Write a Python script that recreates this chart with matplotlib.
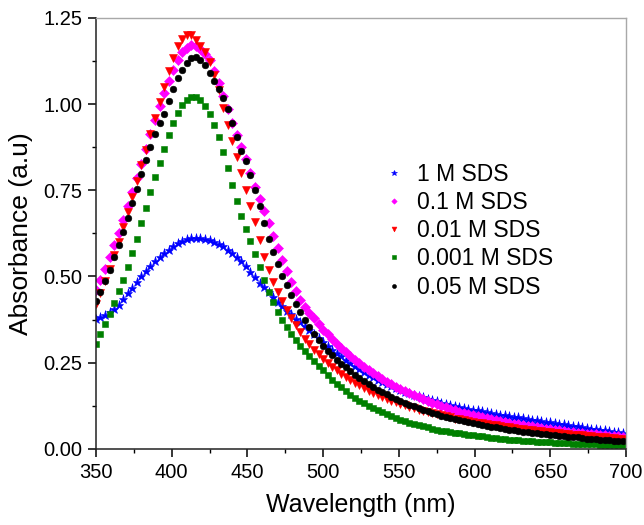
'''Absorbance spectra for different SDS concentrations.'''
import numpy as np
import matplotlib
matplotlib.use('Agg')
import matplotlib.pyplot as plt
from matplotlib.ticker import MultipleLocator

# wavelength grid of the recorded points (nm)
wavelength = np.arange(350, 701, 3)

sds_1M = [
    0.377, 0.382, 0.388, 0.397, 0.407, 0.418, 0.434, 0.451, 0.467, 0.484,
    0.500, 0.516, 0.531, 0.544, 0.556, 0.568, 0.578, 0.588, 0.596, 0.603,
    0.608, 0.611, 0.612, 0.611, 0.609, 0.606, 0.601, 0.595, 0.588, 0.578,
    0.568, 0.556, 0.544, 0.530, 0.514, 0.497, 0.482, 0.468, 0.454, 0.440,
    0.427, 0.414, 0.401, 0.390, 0.378, 0.367, 0.357, 0.346, 0.334, 0.322,
    0.310, 0.299, 0.288, 0.278, 0.268, 0.258, 0.249, 0.240, 0.232, 0.223,
    0.215, 0.208, 0.201, 0.194, 0.188, 0.181, 0.176, 0.171, 0.166, 0.162,
    0.157, 0.153, 0.149, 0.145, 0.142, 0.138, 0.134, 0.131, 0.128, 0.125,
    0.122, 0.119, 0.117, 0.114, 0.112, 0.109, 0.107, 0.104, 0.102, 0.099,
    0.097, 0.095, 0.093, 0.091, 0.089, 0.087, 0.085, 0.083, 0.081, 0.079,
    0.077, 0.075, 0.073, 0.071, 0.069, 0.067, 0.065, 0.063, 0.061, 0.059,
    0.057, 0.055, 0.054, 0.052, 0.050, 0.048, 0.047,
]

sds_01M = [
    0.460, 0.490, 0.523, 0.556, 0.590, 0.627, 0.665, 0.705, 0.745, 0.786,
    0.827, 0.869, 0.912, 0.953, 0.993, 1.032, 1.068, 1.100, 1.128, 1.150,
    1.164, 1.170, 1.168, 1.160, 1.146, 1.127, 1.097, 1.060, 1.022, 0.985,
    0.945, 0.910, 0.875, 0.840, 0.800, 0.760, 0.725, 0.690, 0.655, 0.618,
    0.582, 0.548, 0.515, 0.485, 0.457, 0.432, 0.412, 0.395, 0.380, 0.362,
    0.346, 0.332, 0.318, 0.305, 0.292, 0.280, 0.269, 0.259, 0.248, 0.238,
    0.229, 0.220, 0.211, 0.203, 0.195, 0.187, 0.180, 0.173, 0.167, 0.161,
    0.155, 0.149, 0.144, 0.139, 0.134, 0.129, 0.125, 0.120, 0.116, 0.112,
    0.108, 0.104, 0.101, 0.098, 0.095, 0.092, 0.089, 0.086, 0.083, 0.081,
    0.078, 0.076, 0.073, 0.071, 0.069, 0.067, 0.065, 0.063, 0.061, 0.059,
    0.057, 0.055, 0.054, 0.052, 0.050, 0.049, 0.047, 0.046, 0.044, 0.043,
    0.042, 0.041, 0.039, 0.038, 0.037, 0.036, 0.035,
]

sds_001M = [
    0.420, 0.452, 0.487, 0.523, 0.561, 0.601, 0.643, 0.687, 0.731, 0.776,
    0.822, 0.868, 0.914, 0.960, 1.005, 1.050, 1.095, 1.135, 1.168, 1.190,
    1.200, 1.199, 1.187, 1.168, 1.150, 1.122, 1.085, 1.040, 0.990, 0.940,
    0.893, 0.847, 0.800, 0.752, 0.705, 0.657, 0.605, 0.557, 0.518, 0.485,
    0.455, 0.428, 0.403, 0.380, 0.358, 0.338, 0.320, 0.303, 0.288, 0.274,
    0.261, 0.249, 0.238, 0.228, 0.218, 0.209, 0.200, 0.192, 0.184, 0.177,
    0.168, 0.162, 0.156, 0.150, 0.145, 0.140, 0.135, 0.131, 0.126, 0.122,
    0.118, 0.114, 0.110, 0.107, 0.103, 0.100, 0.097, 0.094, 0.091, 0.088,
    0.086, 0.083, 0.081, 0.078, 0.076, 0.074, 0.072, 0.070, 0.068, 0.066,
    0.064, 0.062, 0.060, 0.059, 0.057, 0.055, 0.054, 0.052, 0.051, 0.049,
    0.048, 0.046, 0.045, 0.044, 0.042, 0.041, 0.040, 0.039, 0.038, 0.036,
    0.035, 0.034, 0.033, 0.032, 0.031, 0.030, 0.029,
]

sds_0001M = [
    0.304, 0.333, 0.362, 0.392, 0.424, 0.458, 0.490, 0.528, 0.568, 0.610,
    0.655, 0.700, 0.745, 0.788, 0.830, 0.870, 0.910, 0.945, 0.975, 0.998,
    1.013, 1.021, 1.020, 1.011, 0.995, 0.970, 0.940, 0.905, 0.862, 0.815,
    0.765, 0.718, 0.675, 0.637, 0.603, 0.565, 0.527, 0.490, 0.455, 0.425,
    0.398, 0.375, 0.353, 0.333, 0.315, 0.298, 0.283, 0.268, 0.254, 0.240,
    0.228, 0.214, 0.201, 0.189, 0.178, 0.167, 0.157, 0.148, 0.140, 0.132,
    0.125, 0.118, 0.112, 0.106, 0.100, 0.094, 0.089, 0.084, 0.080, 0.076,
    0.072, 0.068, 0.065, 0.062, 0.059, 0.056, 0.053, 0.051, 0.049, 0.047,
    0.045, 0.043, 0.041, 0.039, 0.037, 0.036, 0.034, 0.032, 0.031, 0.030,
    0.028, 0.027, 0.026, 0.025, 0.024, 0.023, 0.022, 0.021, 0.020, 0.019,
    0.019, 0.018, 0.017, 0.017, 0.016, 0.015, 0.015, 0.014, 0.014, 0.013,
    0.013, 0.012, 0.012, 0.012, 0.011, 0.011, 0.011,
]

sds_005M = [
    0.430, 0.455, 0.488, 0.520, 0.555, 0.592, 0.630, 0.670, 0.712, 0.755,
    0.797, 0.837, 0.875, 0.912, 0.945, 0.972, 1.010, 1.045, 1.075, 1.100,
    1.120, 1.133, 1.136, 1.129, 1.113, 1.091, 1.066, 1.043, 1.018, 0.985,
    0.945, 0.905, 0.865, 0.835, 0.795, 0.752, 0.705, 0.655, 0.610, 0.572,
    0.535, 0.502, 0.474, 0.447, 0.421, 0.397, 0.375, 0.354, 0.334, 0.316,
    0.298, 0.284, 0.271, 0.259, 0.247, 0.236, 0.225, 0.215, 0.206, 0.197,
    0.188, 0.180, 0.172, 0.165, 0.158, 0.151, 0.145, 0.139, 0.133, 0.128,
    0.123, 0.118, 0.113, 0.109, 0.104, 0.100, 0.096, 0.093, 0.089, 0.086,
    0.083, 0.080, 0.077, 0.074, 0.071, 0.069, 0.066, 0.064, 0.062, 0.060,
    0.058, 0.056, 0.054, 0.052, 0.050, 0.048, 0.047, 0.045, 0.043, 0.042,
    0.040, 0.039, 0.038, 0.036, 0.035, 0.034, 0.033, 0.031, 0.030, 0.029,
    0.028, 0.027, 0.026, 0.025, 0.024, 0.023, 0.022,
]

labels = ['1 M SDS', '0.1 M SDS', '0.01 M SDS', '0.001 M SDS', '0.05 M SDS']
colors = ['#0000ff', '#ff00ff', '#ff0000', '#008000', '#000000']
markers = ['*', 'D', 'v', 's', 'o']
sizes = [6.5, 4.6, 5.8, 4.6, 4.8]
series = [sds_1M, sds_01M, sds_001M, sds_0001M, sds_005M]

plt.rcParams['font.family'] = ['Liberation Sans', 'DejaVu Sans']

fig = plt.figure(figsize=(6.44, 5.25), dpi=100)
ax = fig.add_axes([0.149, 0.145, 0.823, 0.821])

for y, lab, col, mk, ms in zip(series, labels, colors, markers, sizes):
    ax.plot(wavelength, y, linestyle='none', marker=mk, markersize=ms,
            color=col, markeredgewidth=0.4, label=lab)

ax.set_xlim(350, 700)
ax.set_ylim(0, 1.25)
ax.xaxis.set_major_locator(MultipleLocator(50))
ax.xaxis.set_minor_locator(MultipleLocator(25))
ax.yaxis.set_major_locator(MultipleLocator(0.25))
ax.yaxis.set_minor_locator(MultipleLocator(0.125))
ax.yaxis.set_major_formatter(matplotlib.ticker.FormatStrFormatter('%.2f'))
ax.tick_params(which='major', direction='out', length=6, width=1.1,
               labelsize=14.5, pad=4)
ax.tick_params(which='minor', direction='out', length=3, width=1.0)
ax.tick_params(top=False, right=False)

for side in ['top', 'right']:
    ax.spines[side].set_color('#a8a8a8')
    ax.spines[side].set_linewidth(1.0)
for side in ['left', 'bottom']:
    ax.spines[side].set_color('#222222')
    ax.spines[side].set_linewidth(1.1)

ax.set_xlabel('Wavelength (nm)', fontsize=18, labelpad=8)
ax.set_ylabel('Absorbance (a.u)', fontsize=19, labelpad=7)

ax.legend(loc='upper left', bbox_to_anchor=(0.502, 0.712), frameon=False,
          fontsize=16.5, handlelength=1.0, handletextpad=0.5,
          labelspacing=0.23, numpoints=1, markerscale=0.6, borderpad=0.4)

fig.savefig('out.png', dpi=100)
plt.close(fig)
